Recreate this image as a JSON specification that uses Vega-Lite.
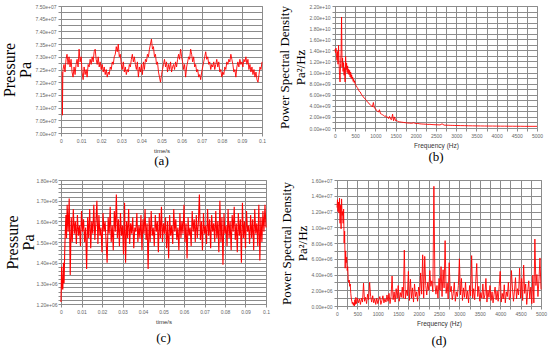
{
"$schema":"https://vega.github.io/schema/vega-lite/v6.json",
"background":"white",
"padding":{"top":3,"left":0,"right":0,"bottom":0},
"config":{
 "view":{"stroke":"#8c8c8c"},
 "axis":{"labelFont":"Liberation Sans","labelFontSize":5,"labelColor":"#666666","gridColor":"#8c8c8c","gridOpacity":1,"domainColor":"#8c8c8c","tickColor":"#8c8c8c","tickSize":3,"labelPadding":2,"titleFont":"Liberation Sans","titleFontSize":6,"titleFontWeight":"normal","titleColor":"#333333","labelOverlap":false,"labelFlush":false},
 "title":{"font":"Liberation Serif","fontSize":13,"fontWeight":"normal","color":"black","orient":"bottom","offset":2},
 "line":{"color":"#ff0000","strokeWidth":0.9,"clip":true}
},
"datasets":{
"a":[{"x":0.0006,"y":7.24e7},{"x":0.0007,"y":7.07e7},{"x":0.0009,"y":7.22e7},
{"x":0.001,"y":7.25e7},{"x":0.0015,"y":7.27e7},{"x":0.002,"y":7.24e7},{"x":0.0025,"y":7.29e7},{"x":0.003,"y":7.31e7},{"x":0.0035,"y":7.27e7},{"x":0.004,"y":7.30e7},{"x":0.0045,"y":7.26e7},{"x":0.005,"y":7.29e7},{"x":0.0055,"y":7.24e7},
{"x":0.006,"y":7.22e7},{"x":0.0065,"y":7.26e7},{"x":0.007,"y":7.23e7},{"x":0.0075,"y":7.27e7},{"x":0.008,"y":7.29e7},{"x":0.0085,"y":7.26e7},{"x":0.009,"y":7.33e7},{"x":0.0095,"y":7.28e7},{"x":0.01,"y":7.30e7},{"x":0.0105,"y":7.24e7},
{"x":0.011,"y":7.21e7},{"x":0.0115,"y":7.26e7},{"x":0.012,"y":7.23e7},{"x":0.0125,"y":7.25e7},{"x":0.013,"y":7.22e7},{"x":0.0135,"y":7.27e7},{"x":0.014,"y":7.26e7},{"x":0.0145,"y":7.29e7},{"x":0.015,"y":7.27e7},{"x":0.0155,"y":7.30e7},
{"x":0.016,"y":7.28e7},{"x":0.0165,"y":7.32e7},{"x":0.017,"y":7.33e7},{"x":0.0175,"y":7.29e7},{"x":0.018,"y":7.27e7},{"x":0.0185,"y":7.30e7},{"x":0.019,"y":7.26e7},{"x":0.0195,"y":7.28e7},{"x":0.02,"y":7.25e7},{"x":0.0205,"y":7.27e7},
{"x":0.021,"y":7.24e7},{"x":0.0215,"y":7.26e7},{"x":0.022,"y":7.23e7},{"x":0.0225,"y":7.25e7},{"x":0.023,"y":7.22e7},{"x":0.0235,"y":7.24e7},{"x":0.024,"y":7.23e7},{"x":0.0245,"y":7.26e7},{"x":0.025,"y":7.25e7},{"x":0.0255,"y":7.28e7},
{"x":0.026,"y":7.27e7},{"x":0.0265,"y":7.30e7},{"x":0.027,"y":7.31e7},{"x":0.0275,"y":7.34e7},{"x":0.028,"y":7.32e7},{"x":0.0285,"y":7.35e7},{"x":0.029,"y":7.30e7},{"x":0.0295,"y":7.31e7},{"x":0.03,"y":7.27e7},{"x":0.0305,"y":7.25e7},
{"x":0.031,"y":7.28e7},{"x":0.0315,"y":7.24e7},{"x":0.032,"y":7.26e7},{"x":0.0325,"y":7.23e7},{"x":0.033,"y":7.25e7},{"x":0.0335,"y":7.24e7},{"x":0.034,"y":7.27e7},{"x":0.0345,"y":7.26e7},{"x":0.035,"y":7.29e7},{"x":0.0355,"y":7.31e7},
{"x":0.036,"y":7.28e7},{"x":0.0365,"y":7.30e7},{"x":0.037,"y":7.27e7},{"x":0.0375,"y":7.25e7},{"x":0.038,"y":7.28e7},{"x":0.0385,"y":7.22e7},{"x":0.039,"y":7.26e7},{"x":0.0395,"y":7.24e7},{"x":0.04,"y":7.27e7},{"x":0.0405,"y":7.23e7},
{"x":0.041,"y":7.28e7},{"x":0.0415,"y":7.25e7},{"x":0.042,"y":7.29e7},{"x":0.0425,"y":7.28e7},{"x":0.043,"y":7.31e7},{"x":0.0435,"y":7.30e7},{"x":0.044,"y":7.33e7},{"x":0.0445,"y":7.35e7},{"x":0.045,"y":7.37e7},{"x":0.0455,"y":7.33e7},
{"x":0.046,"y":7.34e7},{"x":0.0465,"y":7.30e7},{"x":0.047,"y":7.31e7},{"x":0.0475,"y":7.27e7},{"x":0.048,"y":7.28e7},{"x":0.0485,"y":7.24e7},{"x":0.049,"y":7.22e7},{"x":0.0495,"y":7.20e7},{"x":0.05,"y":7.23e7},{"x":0.0505,"y":7.25e7},
{"x":0.051,"y":7.27e7},{"x":0.0515,"y":7.29e7},{"x":0.052,"y":7.26e7},{"x":0.0525,"y":7.28e7},{"x":0.053,"y":7.24e7},{"x":0.0535,"y":7.27e7},{"x":0.054,"y":7.25e7},{"x":0.0545,"y":7.28e7},{"x":0.055,"y":7.24e7},{"x":0.0555,"y":7.26e7},
{"x":0.056,"y":7.27e7},{"x":0.0565,"y":7.25e7},{"x":0.057,"y":7.28e7},{"x":0.0575,"y":7.26e7},{"x":0.058,"y":7.29e7},{"x":0.0585,"y":7.31e7},{"x":0.059,"y":7.29e7},{"x":0.0595,"y":7.33e7},{"x":0.06,"y":7.30e7},{"x":0.0605,"y":7.28e7},
{"x":0.061,"y":7.25e7},{"x":0.0615,"y":7.27e7},{"x":0.062,"y":7.22e7},{"x":0.0625,"y":7.26e7},{"x":0.063,"y":7.28e7},{"x":0.0635,"y":7.30e7},{"x":0.064,"y":7.29e7},{"x":0.0645,"y":7.33e7},{"x":0.065,"y":7.31e7},{"x":0.0655,"y":7.28e7},
{"x":0.066,"y":7.30e7},{"x":0.0665,"y":7.26e7},{"x":0.067,"y":7.27e7},{"x":0.0675,"y":7.24e7},{"x":0.068,"y":7.25e7},{"x":0.0685,"y":7.22e7},{"x":0.069,"y":7.23e7},{"x":0.0695,"y":7.21e7},{"x":0.07,"y":7.24e7},{"x":0.0705,"y":7.26e7},
{"x":0.071,"y":7.28e7},{"x":0.0715,"y":7.30e7},{"x":0.072,"y":7.32e7},{"x":0.0725,"y":7.29e7},{"x":0.073,"y":7.30e7},{"x":0.0735,"y":7.27e7},{"x":0.074,"y":7.28e7},{"x":0.0745,"y":7.25e7},{"x":0.075,"y":7.27e7},{"x":0.0755,"y":7.26e7},
{"x":0.076,"y":7.28e7},{"x":0.0765,"y":7.25e7},{"x":0.077,"y":7.27e7},{"x":0.0775,"y":7.29e7},{"x":0.078,"y":7.26e7},{"x":0.0785,"y":7.28e7},{"x":0.079,"y":7.24e7},{"x":0.0795,"y":7.25e7},{"x":0.08,"y":7.22e7},{"x":0.0805,"y":7.24e7},
{"x":0.081,"y":7.23e7},{"x":0.0815,"y":7.26e7},{"x":0.082,"y":7.25e7},{"x":0.0825,"y":7.28e7},{"x":0.083,"y":7.27e7},{"x":0.0835,"y":7.29e7},{"x":0.084,"y":7.28e7},{"x":0.0845,"y":7.31e7},{"x":0.085,"y":7.29e7},{"x":0.0855,"y":7.27e7},
{"x":0.086,"y":7.24e7},{"x":0.0865,"y":7.25e7},{"x":0.087,"y":7.22e7},{"x":0.0875,"y":7.26e7},{"x":0.088,"y":7.28e7},{"x":0.0885,"y":7.26e7},{"x":0.089,"y":7.29e7},{"x":0.0895,"y":7.27e7},{"x":0.09,"y":7.28e7},{"x":0.0905,"y":7.26e7},
{"x":0.091,"y":7.29e7},{"x":0.0915,"y":7.28e7},{"x":0.092,"y":7.30e7},{"x":0.0925,"y":7.27e7},{"x":0.093,"y":7.29e7},{"x":0.0935,"y":7.25e7},{"x":0.094,"y":7.27e7},{"x":0.0945,"y":7.24e7},{"x":0.095,"y":7.26e7},{"x":0.0955,"y":7.23e7},
{"x":0.096,"y":7.25e7},{"x":0.0965,"y":7.22e7},{"x":0.097,"y":7.24e7},{"x":0.0975,"y":7.21e7},{"x":0.098,"y":7.20e7},{"x":0.0985,"y":7.23e7},{"x":0.099,"y":7.26e7},{"x":0.0995,"y":7.25e7},{"x":0.1,"y":7.28e7}],
"b":[{"x":0,"y":14.2e9},{"x":12.5,"y":13.6e9},{"x":25,"y":14.4e9},{"x":37.5,"y":13.0e9},{"x":50,"y":12.2e9},{"x":62.5,"y":13.8e9},{"x":75,"y":11.5e9},{"x":87.5,"y":14.9e9},{"x":100,"y":12.0e9},{"x":112.5,"y":9.5e9},
{"x":125,"y":8.3e9},{"x":137.5,"y":11.6e9},{"x":150,"y":13.5e9},{"x":162.5,"y":20.0e9},{"x":175,"y":11.0e9},{"x":187.5,"y":12.6e9},{"x":200,"y":10.2e9},{"x":212.5,"y":11.8e9},{"x":225,"y":9.5e9},{"x":237.5,"y":10.8e9},
{"x":250,"y":8.3e9},{"x":262.5,"y":12.9e9},{"x":275,"y":10.5e9},{"x":287.5,"y":11.7e9},{"x":300,"y":10.0e9},{"x":312.5,"y":11.2e9},{"x":325,"y":9.8e9},{"x":337.5,"y":10.6e9},{"x":350,"y":9.6e9},{"x":362.5,"y":10.4e9},
{"x":375,"y":9.2e9},{"x":387.5,"y":10.1e9},{"x":400,"y":9.0e9},{"x":412.5,"y":9.6e9},{"x":425,"y":8.8e9},{"x":437.5,"y":9.2e9},{"x":450,"y":8.4e9},{"x":462.5,"y":8.8e9},{"x":475,"y":8.2e9},{"x":487.5,"y":8.5e9},
{"x":500,"y":7.9e9},{"x":525,"y":7.6e9},{"x":550,"y":7.3e9},{"x":575,"y":7.0e9},{"x":600,"y":6.6e9},{"x":625,"y":6.5e9},{"x":650,"y":6.1e9},{"x":675,"y":5.9e9},{"x":700,"y":5.6e9},{"x":725,"y":5.4e9},
{"x":750,"y":5.2e9},{"x":775,"y":5.0e9},{"x":800,"y":4.7e9},{"x":825,"y":4.6e9},{"x":850,"y":4.3e9},{"x":875,"y":4.2e9},{"x":900,"y":4.0e9},{"x":925,"y":3.8e9},{"x":950,"y":4.6e9},{"x":975,"y":3.6e9},
{"x":1000,"y":3.5e9},{"x":1025,"y":3.2e9},{"x":1050,"y":3.0e9},{"x":1075,"y":2.9e9},{"x":1100,"y":3.3e9},{"x":1125,"y":2.6e9},{"x":1150,"y":2.5e9},{"x":1175,"y":2.4e9},{"x":1200,"y":2.3e9},{"x":1225,"y":2.1e9},
{"x":1250,"y":2.2e9},{"x":1275,"y":1.9e9},{"x":1300,"y":2.0e9},{"x":1325,"y":1.7e9},{"x":1350,"y":2.1e9},{"x":1375,"y":1.6e9},{"x":1400,"y":1.5e9},{"x":1425,"y":2.5e9},{"x":1450,"y":1.3e9},{"x":1475,"y":2.0e9},
{"x":1500,"y":1.3e9},{"x":1525,"y":1.4e9},{"x":1550,"y":1.2e9},{"x":1575,"y":1.15e9},{"x":1600,"y":1.1e9},{"x":1650,"y":1.05e9},{"x":1700,"y":1.0e9},{"x":1750,"y":0.95e9},{"x":1800,"y":0.9e9},{"x":1850,"y":0.88e9},
{"x":1900,"y":0.85e9},{"x":1950,"y":0.95e9},{"x":2000,"y":0.8e9},{"x":2050,"y":0.82e9},{"x":2100,"y":0.75e9},{"x":2150,"y":0.72e9},{"x":2200,"y":0.7e9},{"x":2250,"y":0.68e9},{"x":2300,"y":0.65e9},{"x":2350,"y":0.66e9},
{"x":2400,"y":0.62e9},{"x":2450,"y":0.6e9},{"x":2500,"y":0.58e9},{"x":2550,"y":0.57e9},{"x":2600,"y":0.55e9},{"x":2650,"y":0.75e9},{"x":2700,"y":0.52e9},{"x":2750,"y":0.5e9},{"x":2800,"y":0.5e9},{"x":2850,"y":0.48e9},
{"x":2900,"y":0.47e9},{"x":2950,"y":0.46e9},{"x":3000,"y":0.45e9},{"x":3100,"y":0.43e9},{"x":3200,"y":0.42e9},{"x":3300,"y":0.4e9},{"x":3400,"y":0.39e9},{"x":3500,"y":0.38e9},{"x":3600,"y":0.37e9},{"x":3700,"y":0.36e9},
{"x":3800,"y":0.35e9},{"x":3900,"y":0.35e9},{"x":4000,"y":0.34e9},{"x":4100,"y":0.33e9},{"x":4200,"y":0.33e9},{"x":4300,"y":0.32e9},{"x":4400,"y":0.32e9},{"x":4500,"y":0.31e9},{"x":4600,"y":0.31e9},{"x":4700,"y":0.3e9},
{"x":4800,"y":0.3e9},{"x":4900,"y":0.3e9},{"x":5000,"y":0.3e9}],
"c":[{"x":0,"y":1.21e6},{"x":0.0003,"y":1.38e6},{"x":0.0006,"y":1.28e6},{"x":0.0009,"y":1.27e6},{"x":0.0012,"y":1.40e6},{"x":0.0015,"y":1.30e6},{"x":0.0018,"y":1.45e6},{"x":0.0021,"y":1.55e6},{"x":0.0024,"y":1.63e6},{"x":0.0027,"y":1.52e6},
{"x":0.003,"y":1.68e6},{"x":0.0035,"y":1.55e6},{"x":0.004,"y":1.71e6},{"x":0.0045,"y":1.34e6},{"x":0.005,"y":1.62e6},{"x":0.0055,"y":1.50e6},{"x":0.006,"y":1.66e6},{"x":0.0065,"y":1.54e6},{"x":0.007,"y":1.60e6},{"x":0.0075,"y":1.49e6},
{"x":0.008,"y":1.63e6},{"x":0.0085,"y":1.53e6},{"x":0.009,"y":1.58e6},{"x":0.0095,"y":1.48e6},{"x":0.01,"y":1.65e6},{"x":0.0105,"y":1.55e6},{"x":0.011,"y":1.61e6},{"x":0.0115,"y":1.50e6},{"x":0.012,"y":1.57e6},{"x":0.0125,"y":1.37e6},
{"x":0.013,"y":1.62e6},{"x":0.0135,"y":1.52e6},{"x":0.014,"y":1.66e6},{"x":0.0145,"y":1.47e6},{"x":0.015,"y":1.60e6},{"x":0.0155,"y":1.54e6},{"x":0.016,"y":1.68e6},{"x":0.0165,"y":1.51e6},{"x":0.017,"y":1.59e6},{"x":0.0175,"y":1.70e6},
{"x":0.018,"y":1.49e6},{"x":0.0185,"y":1.63e6},{"x":0.019,"y":1.53e6},{"x":0.0195,"y":1.57e6},{"x":0.02,"y":1.45e6},{"x":0.0205,"y":1.64e6},{"x":0.021,"y":1.55e6},{"x":0.0215,"y":1.60e6},{"x":0.022,"y":1.50e6},{"x":0.0225,"y":1.40e6},
{"x":0.023,"y":1.62e6},{"x":0.0235,"y":1.54e6},{"x":0.024,"y":1.67e6},{"x":0.0245,"y":1.50e6},{"x":0.025,"y":1.58e6},{"x":0.0255,"y":1.46e6},{"x":0.026,"y":1.65e6},{"x":0.0265,"y":1.55e6},{"x":0.027,"y":1.73e6},{"x":0.0275,"y":1.52e6},
{"x":0.028,"y":1.61e6},{"x":0.0285,"y":1.48e6},{"x":0.029,"y":1.64e6},{"x":0.0295,"y":1.53e6},{"x":0.03,"y":1.58e6},{"x":0.0305,"y":1.44e6},{"x":0.031,"y":1.69e6},{"x":0.0315,"y":1.40e6},{"x":0.032,"y":1.60e6},{"x":0.0325,"y":1.52e6},
{"x":0.033,"y":1.66e6},{"x":0.0335,"y":1.49e6},{"x":0.034,"y":1.59e6},{"x":0.0345,"y":1.54e6},{"x":0.035,"y":1.62e6},{"x":0.0355,"y":1.47e6},{"x":0.036,"y":1.57e6},{"x":0.0365,"y":1.55e6},{"x":0.037,"y":1.64e6},{"x":0.0375,"y":1.50e6},
{"x":0.038,"y":1.58e6},{"x":0.0385,"y":1.52e6},{"x":0.039,"y":1.63e6},{"x":0.0395,"y":1.46e6},{"x":0.04,"y":1.61e6},{"x":0.0405,"y":1.54e6},{"x":0.041,"y":1.66e6},{"x":0.0415,"y":1.51e6},{"x":0.042,"y":1.59e6},{"x":0.0425,"y":1.37e6},
{"x":0.043,"y":1.62e6},{"x":0.0435,"y":1.50e6},{"x":0.044,"y":1.65e6},{"x":0.0445,"y":1.53e6},{"x":0.045,"y":1.57e6},{"x":0.0455,"y":1.48e6},{"x":0.046,"y":1.63e6},{"x":0.0465,"y":1.55e6},{"x":0.047,"y":1.60e6},{"x":0.0475,"y":1.45e6},
{"x":0.048,"y":1.64e6},{"x":0.0485,"y":1.52e6},{"x":0.049,"y":1.67e6},{"x":0.0495,"y":1.50e6},{"x":0.05,"y":1.59e6},{"x":0.0505,"y":1.54e6},{"x":0.051,"y":1.62e6},{"x":0.0515,"y":1.47e6},{"x":0.052,"y":1.60e6},{"x":0.0525,"y":1.42e6},
{"x":0.053,"y":1.63e6},{"x":0.0535,"y":1.53e6},{"x":0.054,"y":1.58e6},{"x":0.0545,"y":1.49e6},{"x":0.055,"y":1.66e6},{"x":0.0555,"y":1.55e6},{"x":0.056,"y":1.61e6},{"x":0.0565,"y":1.51e6},{"x":0.057,"y":1.57e6},{"x":0.0575,"y":1.46e6},
{"x":0.058,"y":1.64e6},{"x":0.0585,"y":1.52e6},{"x":0.059,"y":1.60e6},{"x":0.0595,"y":1.54e6},{"x":0.06,"y":1.68e6},{"x":0.0605,"y":1.50e6},{"x":0.061,"y":1.59e6},{"x":0.0615,"y":1.42e6},{"x":0.062,"y":1.62e6},{"x":0.0625,"y":1.53e6},
{"x":0.063,"y":1.57e6},{"x":0.0635,"y":1.48e6},{"x":0.064,"y":1.65e6},{"x":0.0645,"y":1.55e6},{"x":0.065,"y":1.61e6},{"x":0.0655,"y":1.50e6},{"x":0.066,"y":1.63e6},{"x":0.0665,"y":1.52e6},{"x":0.067,"y":1.59e6},{"x":0.0675,"y":1.73e6},
{"x":0.068,"y":1.51e6},{"x":0.0685,"y":1.60e6},{"x":0.069,"y":1.46e6},{"x":0.0695,"y":1.64e6},{"x":0.07,"y":1.54e6},{"x":0.0705,"y":1.58e6},{"x":0.071,"y":1.49e6},{"x":0.0715,"y":1.66e6},{"x":0.072,"y":1.53e6},{"x":0.0725,"y":1.61e6},
{"x":0.073,"y":1.47e6},{"x":0.0735,"y":1.63e6},{"x":0.074,"y":1.55e6},{"x":0.0745,"y":1.59e6},{"x":0.075,"y":1.50e6},{"x":0.0755,"y":1.65e6},{"x":0.076,"y":1.52e6},{"x":0.0765,"y":1.60e6},{"x":0.077,"y":1.45e6},{"x":0.0775,"y":1.70e6},
{"x":0.078,"y":1.50e6},{"x":0.0785,"y":1.62e6},{"x":0.079,"y":1.39e6},{"x":0.0795,"y":1.64e6},{"x":0.08,"y":1.54e6},{"x":0.0805,"y":1.58e6},{"x":0.081,"y":1.48e6},{"x":0.0815,"y":1.66e6},{"x":0.082,"y":1.52e6},{"x":0.0825,"y":1.60e6},
{"x":0.083,"y":1.46e6},{"x":0.0835,"y":1.63e6},{"x":0.084,"y":1.55e6},{"x":0.0845,"y":1.67e6},{"x":0.085,"y":1.51e6},{"x":0.0855,"y":1.59e6},{"x":0.086,"y":1.45e6},{"x":0.0865,"y":1.64e6},{"x":0.087,"y":1.53e6},{"x":0.0875,"y":1.61e6},
{"x":0.088,"y":1.40e6},{"x":0.0885,"y":1.69e6},{"x":0.089,"y":1.52e6},{"x":0.0895,"y":1.60e6},{"x":0.09,"y":1.47e6},{"x":0.0905,"y":1.65e6},{"x":0.091,"y":1.55e6},{"x":0.0915,"y":1.58e6},{"x":0.092,"y":1.49e6},{"x":0.0925,"y":1.63e6},
{"x":0.093,"y":1.52e6},{"x":0.0935,"y":1.61e6},{"x":0.094,"y":1.46e6},{"x":0.0945,"y":1.66e6},{"x":0.095,"y":1.54e6},{"x":0.0955,"y":1.59e6},{"x":0.096,"y":1.48e6},{"x":0.0965,"y":1.68e6},{"x":0.097,"y":1.41e6},{"x":0.0975,"y":1.62e6},
{"x":0.098,"y":1.50e6},{"x":0.0985,"y":1.65e6},{"x":0.099,"y":1.55e6},{"x":0.0995,"y":1.68e6},{"x":0.1,"y":1.57e6}],
"d":[{"x":0,"y":12.5e6},{"x":12.5,"y":13.5e6},{"x":25,"y":12.0e6},{"x":37.5,"y":13.2e6},{"x":50,"y":11.8e6},{"x":62.5,"y":13.7e6},{"x":75,"y":10.5e6},{"x":87.5,"y":12.8e6},{"x":100,"y":9.8e6},{"x":112.5,"y":13.6e6},
{"x":125,"y":11.5e6},{"x":137.5,"y":12.0e6},{"x":150,"y":10.5e6},{"x":162.5,"y":12.3e6},{"x":175,"y":8.0e6},{"x":187.5,"y":9.5e6},{"x":200,"y":4.8e6},{"x":212.5,"y":7.0e6},{"x":225,"y":5.5e6},{"x":237.5,"y":6.2e6},
{"x":250,"y":4.5e6},{"x":262.5,"y":5.0e6},{"x":275,"y":3.4e6},{"x":287.5,"y":3.0e6},{"x":300,"y":3.3e6},{"x":312.5,"y":2.5e6},{"x":325,"y":2.8e6},{"x":337.5,"y":1.6e6},{"x":350,"y":1.0e6},{"x":362.5,"y":0.6e6},
{"x":375,"y":0.3e6},{"x":387.5,"y":0.5e6},{"x":400,"y":0.1e6},{"x":412.5,"y":0.4e6},{"x":425,"y":0.0},{"x":437.5,"y":0.8e6},{"x":450,"y":0.2e6},{"x":462.5,"y":1.1e6},{"x":475,"y":0.3e6},{"x":487.5,"y":0.6e6},
{"x":500,"y":1.0e6},{"x":525,"y":0.4e6},{"x":550,"y":0.9e6},{"x":575,"y":0.2e6},{"x":600,"y":1.0e6},{"x":625,"y":0.5e6},{"x":650,"y":2.9e6},{"x":675,"y":0.6e6},{"x":700,"y":1.1e6},{"x":725,"y":0.3e6},
{"x":750,"y":1.5e6},{"x":775,"y":0.8e6},{"x":800,"y":3.0e6},{"x":825,"y":1.2e6},{"x":850,"y":0.5e6},{"x":875,"y":1.3e6},{"x":900,"y":0.4e6},{"x":925,"y":0.9e6},{"x":950,"y":0.2e6},{"x":975,"y":1.0e6},
{"x":1000,"y":0.3e6},{"x":1025,"y":0.8e6},{"x":1050,"y":1.2e6},{"x":1075,"y":0.2e6},{"x":1100,"y":0.7e6},{"x":1125,"y":1.3e6},{"x":1150,"y":0.4e6},{"x":1175,"y":0.9e6},{"x":1200,"y":0.5e6},{"x":1225,"y":1.4e6},
{"x":1250,"y":0.6e6},{"x":1275,"y":1.6e6},{"x":1300,"y":0.3e6},{"x":1325,"y":1.2e6},{"x":1350,"y":3.8e6},{"x":1375,"y":0.8e6},{"x":1400,"y":1.8e6},{"x":1425,"y":0.5e6},{"x":1450,"y":2.2e6},{"x":1475,"y":1.0e6},
{"x":1500,"y":2.6e6},{"x":1525,"y":0.6e6},{"x":1550,"y":1.7e6},{"x":1575,"y":1.1e6},{"x":1600,"y":2.4e6},{"x":1625,"y":1.0e6},{"x":1650,"y":7.1e6},{"x":1675,"y":0.9e6},{"x":1700,"y":2.0e6},{"x":1725,"y":1.3e6},
{"x":1750,"y":4.4e6},{"x":1775,"y":0.7e6},{"x":1800,"y":3.4e6},{"x":1825,"y":1.0e6},{"x":1850,"y":2.3e6},{"x":1875,"y":0.5e6},{"x":1900,"y":2.8e6},{"x":1925,"y":1.2e6},{"x":1950,"y":1.8e6},{"x":1975,"y":0.6e6},
{"x":2000,"y":2.4e6},{"x":2025,"y":1.3e6},{"x":2050,"y":4.2e6},{"x":2075,"y":1.5e6},{"x":2100,"y":6.5e6},{"x":2125,"y":1.0e6},{"x":2150,"y":6.3e6},{"x":2175,"y":2.6e6},{"x":2200,"y":1.4e6},{"x":2225,"y":3.0e6},
{"x":2250,"y":2.0e6},{"x":2275,"y":4.5e6},{"x":2300,"y":2.5e6},{"x":2325,"y":3.2e6},{"x":2350,"y":1.8e6},{"x":2375,"y":15.2e6},{"x":2400,"y":2.8e6},{"x":2425,"y":1.5e6},{"x":2450,"y":2.6e6},{"x":2475,"y":1.0e6},
{"x":2500,"y":3.5e6},{"x":2525,"y":2.0e6},{"x":2550,"y":5.0e6},{"x":2575,"y":1.2e6},{"x":2600,"y":4.6e6},{"x":2625,"y":2.3e6},{"x":2650,"y":8.3e6},{"x":2675,"y":1.6e6},{"x":2700,"y":2.9e6},{"x":2725,"y":0.9e6},
{"x":2750,"y":5.5e6},{"x":2775,"y":1.8e6},{"x":2800,"y":2.5e6},{"x":2825,"y":0.8e6},{"x":2850,"y":1.6e6},{"x":2875,"y":3.0e6},{"x":2900,"y":0.6e6},{"x":2925,"y":1.8e6},{"x":2950,"y":1.2e6},{"x":2975,"y":2.6e6},
{"x":3000,"y":6.0e6},{"x":3025,"y":1.4e6},{"x":3050,"y":3.5e6},{"x":3075,"y":0.7e6},{"x":3100,"y":2.3e6},{"x":3125,"y":1.1e6},{"x":3150,"y":3.0e6},{"x":3175,"y":0.9e6},{"x":3200,"y":1.9e6},{"x":3225,"y":0.4e6},
{"x":3250,"y":2.6e6},{"x":3275,"y":1.3e6},{"x":3300,"y":6.4e6},{"x":3325,"y":1.0e6},{"x":3350,"y":2.2e6},{"x":3375,"y":0.8e6},{"x":3400,"y":3.1e6},{"x":3425,"y":5.4e6},{"x":3450,"y":1.2e6},{"x":3475,"y":2.5e6},
{"x":3500,"y":0.6e6},{"x":3525,"y":1.7e6},{"x":3550,"y":1.0e6},{"x":3575,"y":2.8e6},{"x":3600,"y":0.9e6},{"x":3625,"y":1.4e6},{"x":3650,"y":3.5e6},{"x":3675,"y":0.5e6},{"x":3700,"y":2.0e6},{"x":3725,"y":1.1e6},
{"x":3750,"y":2.6e6},{"x":3775,"y":0.7e6},{"x":3800,"y":1.8e6},{"x":3825,"y":0.4e6},{"x":3850,"y":1.5e6},{"x":3875,"y":2.4e6},{"x":3900,"y":0.8e6},{"x":3925,"y":1.9e6},{"x":3950,"y":0.6e6},{"x":3975,"y":2.5e6},
{"x":4000,"y":4.4e6},{"x":4025,"y":0.5e6},{"x":4050,"y":1.6e6},{"x":4075,"y":0.9e6},{"x":4100,"y":2.7e6},{"x":4125,"y":0.4e6},{"x":4150,"y":1.8e6},{"x":4175,"y":1.2e6},{"x":4200,"y":3.0e6},{"x":4225,"y":0.8e6},
{"x":4250,"y":1.1e6},{"x":4275,"y":4.5e6},{"x":4300,"y":2.3e6},{"x":4325,"y":0.6e6},{"x":4350,"y":1.9e6},{"x":4375,"y":3.6e6},{"x":4400,"y":0.9e6},{"x":4425,"y":2.2e6},{"x":4450,"y":1.4e6},{"x":4475,"y":4.8e6},
{"x":4500,"y":1.0e6},{"x":4525,"y":3.5e6},{"x":4550,"y":0.7e6},{"x":4575,"y":5.2e6},{"x":4600,"y":1.6e6},{"x":4625,"y":2.8e6},{"x":4650,"y":0.2e6},{"x":4675,"y":1.9e6},{"x":4700,"y":3.2e6},{"x":4725,"y":0.9e6},
{"x":4750,"y":2.4e6},{"x":4775,"y":0.3e6},{"x":4800,"y":3.9e6},{"x":4825,"y":0.4e6},{"x":4850,"y":8.5e6},{"x":4875,"y":2.6e6},{"x":4900,"y":4.0e6},{"x":4925,"y":1.2e6},{"x":4950,"y":3.3e6},{"x":4975,"y":6.1e6},
{"x":5000,"y":2.1e6}]
},
"spacing":8,
"vconcat":[
 {"spacing":11,"hconcat":[
  {"width":201,"height":127,"title":"(a)","data":{"name":"a"},"mark":"line",
   "encoding":{
    "x":{"field":"x","type":"quantitative","scale":{"domain":[0,0.1],"nice":false},
      "axis":{"values":[0,0.01,0.02,0.03,0.04,0.05,0.06,0.07,0.08,0.09,0.1],"format":"~g","title":"time/s","titlePadding":4}},
    "y":{"field":"y","type":"quantitative","scale":{"domain":[70000000,75000000],"nice":false,"zero":false},
      "axis":{"values":[70000000,70250000,70500000,70750000,71000000,71250000,71500000,71750000,72000000,72250000,72500000,72750000,73000000,73250000,73500000,73750000,74000000,74250000,74500000,74750000,75000000],
       "labelExpr":"round((datum.value-70000000)/250000)%2==0 ? replace(format(datum.value,'.2e'),'e+','e+0') : ''",
       "title":["Pressure","Pa"],"titleFont":"Liberation Serif","titleFontSize":16,"titleLineHeight":16,"titleColor":"black","titlePadding":2}}}},
  {"width":202,"height":122,"title":"(b)","data":{"name":"b"},"mark":"line",
   "encoding":{
    "x":{"field":"x","type":"quantitative","scale":{"domain":[0,5000],"nice":false},
      "axis":{"values":[0,250,500,750,1000,1250,1500,1750,2000,2250,2500,2750,3000,3250,3500,3750,4000,4250,4500,4750,5000],
       "labelExpr":"datum.value%500==0 ? format(datum.value,'d') : ''","title":"Frequency (Hz)","titleFontSize":6.5,"titlePadding":4}},
    "y":{"field":"y","type":"quantitative","scale":{"domain":[0,22000000000],"nice":false},
      "axis":{"values":[0,1e9,2e9,3e9,4e9,5e9,6e9,7e9,8e9,9e9,1e10,1.1e10,1.2e10,1.3e10,1.4e10,1.5e10,1.6e10,1.7e10,1.8e10,1.9e10,2e10,2.1e10,2.2e10],
       "labelExpr":"round(datum.value/1e9)%2==0 ? (length(format(datum.value,'.2e'))==7 ? replace(format(datum.value,'.2e'),'e+','e+0') : format(datum.value,'.2e')) : ''",
       "title":["Power Spectral Density","Pa²/Hz"],"titleFont":"Liberation Serif","titleFontSize":13,"titleLineHeight":16,"titleColor":"black","titlePadding":2}}}}
 ]},
 {"spacing":9,"hconcat":[
  {"width":205,"height":124,"title":{"text":"(c)","offset":8},"data":{"name":"c"},"mark":{"type":"line","strokeWidth":1.1},
   "encoding":{
    "x":{"field":"x","type":"quantitative","scale":{"domain":[0,0.1],"nice":false},
      "axis":{"values":[0,0.01,0.02,0.03,0.04,0.05,0.06,0.07,0.08,0.09,0.1],"format":"~g","title":"time/s","titlePadding":4}},
    "y":{"field":"y","type":"quantitative","scale":{"domain":[1200000,1800000],"nice":false,"zero":false},
      "axis":{"values":[1200000,1220000,1240000,1260000,1280000,1300000,1320000,1340000,1360000,1380000,1400000,1420000,1440000,1460000,1480000,1500000,1520000,1540000,1560000,1580000,1600000,1620000,1640000,1660000,1680000,1700000,1720000,1740000,1760000,1780000,1800000],
       "labelExpr":"round((datum.value-1200000)/20000)%5==0 ? replace(format(datum.value,'.2e'),'e+','e+0') : ''",
       "labelPadding":1,"title":["Pressure","Pa"],"titleFont":"Liberation Serif","titleFontSize":16,"titleLineHeight":16,"titleColor":"black","titlePadding":0}}}},
  {"width":204,"height":126,"title":{"text":"(d)","offset":8},"data":{"name":"d"},"mark":"line",
   "encoding":{
    "x":{"field":"x","type":"quantitative","scale":{"domain":[0,5000],"nice":false},
      "axis":{"values":[0,250,500,750,1000,1250,1500,1750,2000,2250,2500,2750,3000,3250,3500,3750,4000,4250,4500,4750,5000],
       "labelExpr":"datum.value%500==0 ? format(datum.value,'d') : ''","title":"Frequency (Hz)","titleFontSize":6.5,"titlePadding":4}},
    "y":{"field":"y","type":"quantitative","scale":{"domain":[0,16000000],"nice":false},
      "axis":{"values":[0,1e6,2e6,3e6,4e6,5e6,6e6,7e6,8e6,9e6,1e7,1.1e7,1.2e7,1.3e7,1.4e7,1.5e7,1.6e7],
       "labelExpr":"round(datum.value/1e6)%2==0 ? (length(format(datum.value,'.2e'))==7 ? replace(format(datum.value,'.2e'),'e+','e+0') : format(datum.value,'.2e')) : ''",
       "title":["Power Spectral Density","Pa²/Hz"],"titleFont":"Liberation Serif","titleFontSize":13,"titleLineHeight":16,"titleColor":"black","titlePadding":2}}}}
 ]}
]
}
